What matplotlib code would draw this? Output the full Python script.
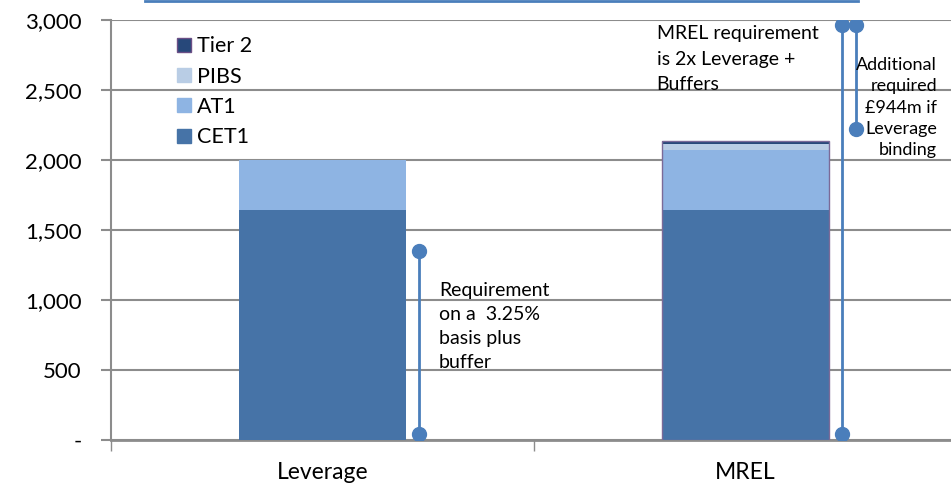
import numpy as np
import matplotlib.pyplot as plt
from matplotlib.ticker import FuncFormatter
from matplotlib.lines import Line2D

plt.rcParams['font.family'] = ['Lato', 'DejaVu Sans']

# capital stack per measure (GBP m)
categories = ['Leverage', 'MREL']
cet1 = [1643, 1643]
at1 = [357, 428]
pibs = [0, 43]
tier2 = [0, 22]

# requirement markers: low and high ends
lev_req = [40, 1350]
mrel_req = [40, 2965]
mrel_add = [2220, 2965]

c_cet1 = '#4673a7'
c_at1 = '#8eb4e3'
c_pibs = '#b9cde5'
c_tier2 = '#27487a'
c_line = '#4a7ebb'
c_grid = '#8c8c8c'

fig = plt.figure(figsize=(9.51, 4.86), dpi=100)
ax = fig.add_axes([111 / 951, 1 - 440 / 486, (957 - 111) / 951, 420 / 486])

x = np.arange(len(categories))
w = 0.395
b1 = np.array(cet1)
b2 = b1 + np.array(at1)
b3 = b2 + np.array(pibs)
ax.bar(x, cet1, w, color=c_cet1, zorder=3)
ax.bar(x, at1, w, bottom=b1, color=c_at1, zorder=3)
ax.bar(x, pibs, w, bottom=b2, color=c_pibs, zorder=3)
ax.bar(x, tier2, w, bottom=b3, color=c_tier2, zorder=3)
totals = b3 + np.array(tier2)
ax.bar(x[1], totals[1], w, fill=False, edgecolor='#7b6a98', linewidth=1.0, zorder=4)

# requirement lines with round ends
ax.plot([0.227, 0.227], lev_req, color=c_line, lw=2, marker='o', ms=10, zorder=5)
ax.plot([1.229, 1.229], mrel_req, color=c_line, lw=2, marker='o', ms=10, zorder=5)
ax.plot([1.262, 1.262], mrel_add, color=c_line, lw=2, marker='o', ms=10, zorder=5)

ax.set_xlim(-0.5, 1.5)
ax.set_ylim(0, 3000)
ax.set_yticks(np.arange(0, 3001, 500))
ax.yaxis.set_major_formatter(FuncFormatter(lambda v, p: '-' if v == 0 else f'{v:,.0f}'))
ax.set_xticks([-0.5, 0.5, 1.5])
ax.set_xticklabels([])
ax.set_xticks(x, minor=True)
ax.set_xticklabels(categories, minor=True, fontsize=16.5)
ax.tick_params(axis='x', which='minor', length=0, pad=16)
ax.tick_params(axis='x', which='major', length=8, direction='out', color=c_grid, width=1)
ax.tick_params(axis='y', length=7, color=c_grid, width=1.5, labelsize=16, pad=14)

ax.grid(axis='y', color=c_grid, lw=1.5, zorder=0)
for s in ['top', 'right']:
    ax.spines[s].set_visible(False)
ax.spines['left'].set_color(c_grid)
ax.spines['left'].set_linewidth(1.5)
ax.spines['bottom'].set_color(c_grid)
ax.spines['bottom'].set_linewidth(2)

handles = [
    Line2D([], [], ls='', marker='s', ms=10, mfc=c_tier2, mec='#6b4f86', mew=1),
    Line2D([], [], ls='', marker='s', ms=10, mfc=c_pibs, mec=c_pibs),
    Line2D([], [], ls='', marker='s', ms=10, mfc=c_at1, mec=c_at1),
    Line2D([], [], ls='', marker='s', ms=10, mfc=c_cet1, mec=c_cet1),
]
ax.legend(handles, ['Tier 2', 'PIBS', 'AT1', 'CET1'], loc='upper left',
          bbox_to_anchor=(0.066, 0.987), frameon=False, fontsize=15.5,
          handlelength=0.6, handletextpad=0.3, labelspacing=0.48, borderpad=0)

ax.text(0.275, 1128, 'Requirement\non a  3.25%\nbasis plus\nbuffer',
        fontsize=14, va='top', ha='left', linespacing=1.5, zorder=6)
ax.text(0.79, 2965, 'MREL requirement\nis 2x Leverage +\nBuffers',
        fontsize=14, va='top', ha='left', linespacing=1.62, zorder=6)
ax.text(1.4527, 2735, 'Additional\nrequired\n£944m if\nLeverage\nbinding',
        fontsize=13, va='top', ha='right', linespacing=1.41, zorder=6)

# edge of the title box above the plot
fig.add_artist(Line2D([145 / 951, 858 / 951], [1 - 1 / 486, 1 - 1 / 486],
                      color=c_line, lw=2))

fig.savefig('out.png', dpi=100)
